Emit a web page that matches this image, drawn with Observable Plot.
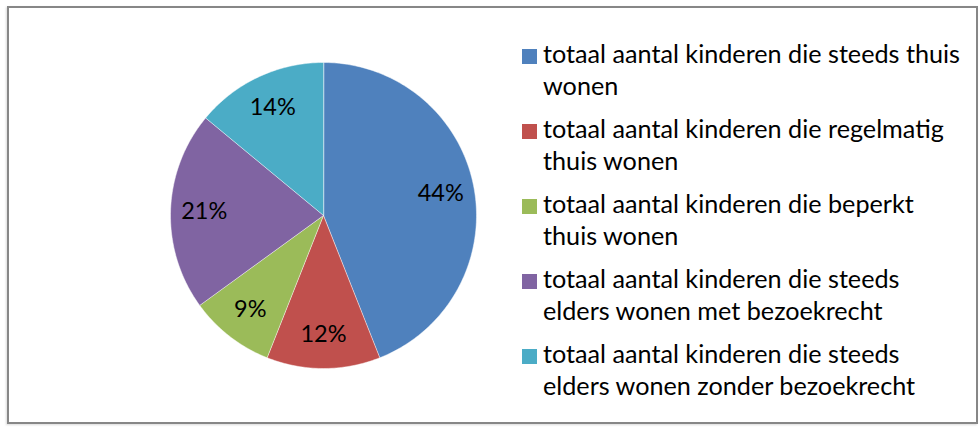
<!DOCTYPE html>
<html>
<head>
<meta charset="utf-8">
<script src="https://cdn.jsdelivr.net/npm/d3@7"></script>
<script src="https://cdn.jsdelivr.net/npm/@observablehq/plot@0.6"></script>
<style>
  html, body { margin: 0; padding: 0; background: #fff; }
  #chart { position: relative; width: 979px; height: 427px; overflow: hidden; font-family: Lato, "Open Sans", sans-serif; color: #000; }
  #frame { position: absolute; left: 7px; top: 6px; width: 971px; height: 418px; box-sizing: border-box; border: 2px solid #878787; box-shadow: -1px 1px 2px rgba(0,0,0,0.15); }
  #pie { position: absolute; left: 0; top: 0; }
  #legend { position: absolute; left: 522px; top: 37px; }
  .entry { position: relative; padding-left: 21px; margin-bottom: 11px; }
  .swatch { position: absolute; left: 0; top: 12px; width: 15px; height: 15px; }
  .line { font-size: 25.2px; line-height: 32px; white-space: nowrap; }
</style>
</head>
<body>
<div id="chart">
  <div id="frame"></div>
  <div id="pie"></div>
  <div id="legend"></div>
</div>
<script>
// Data
const categories = [
  "totaal aantal kinderen die steeds thuis wonen",
  "totaal aantal kinderen die regelmatig thuis wonen",
  "totaal aantal kinderen die beperkt thuis wonen",
  "totaal aantal kinderen die steeds elders wonen met bezoekrecht",
  "totaal aantal kinderen die steeds elders wonen zonder bezoekrecht"
];
const legendLines = [
  ["totaal aantal kinderen die steeds thuis", "wonen"],
  ["totaal aantal kinderen die regelmatig", "thuis wonen"],
  ["totaal aantal kinderen die beperkt", "thuis wonen"],
  ["totaal aantal kinderen die steeds", "elders wonen met bezoekrecht"],
  ["totaal aantal kinderen die steeds", "elders wonen zonder bezoekrecht"]
];
const values = [44, 12, 9, 21, 14];
const colors = ["#4F81BD", "#C0504D", "#9BBB59", "#8064A2", "#4BACC6"];

// Build slice polygons (angles clockwise from 12 o'clock)
const total = d3.sum(values);
const pts = [];
const labels = [];
let acc = 0;
values.forEach((v, i) => {
  const a0 = acc / total * 2 * Math.PI;
  const a1 = (acc + v) / total * 2 * Math.PI;
  acc += v;
  pts.push({cat: categories[i], x: 0, y: 0});
  const n = Math.max(2, Math.ceil((a1 - a0) / (Math.PI / 180)));
  for (let k = 0; k <= n; k++) {
    const a = a0 + (a1 - a0) * k / n;
    pts.push({cat: categories[i], x: Math.sin(a), y: Math.cos(a)});
  }
  const am = (a0 + a1) / 2;
  const r = 0.78;
  labels.push({cat: categories[i], x: r * Math.sin(am), y: r * Math.cos(am), text: Math.round(v / total * 100) + "%"});
});

const plot = Plot.plot({
  width: 979,
  height: 427,
  marginLeft: 170,
  marginRight: 503,
  marginTop: 62,
  marginBottom: 59,
  x: {domain: [-1, 1], axis: null},
  y: {domain: [-1, 1], axis: null},
  color: {domain: categories, range: colors},
  style: {background: "transparent", fontFamily: "Lato, 'Open Sans', sans-serif"},
  marks: [
    Plot.line(pts, {x: "x", y: "y", z: "cat", fill: "cat", stroke: "#ffffff", strokeWidth: 0.6, strokeOpacity: 0.8, curve: "linear-closed"}),
    Plot.text(labels, {x: "x", y: "y", text: "text", fill: "#000", fontSize: 23.5})
  ]
});
document.getElementById("pie").appendChild(plot);

// Legend
const legend = d3.select("#legend");
categories.forEach((c, i) => {
  const e = legend.append("div").attr("class", "entry");
  e.append("div").attr("class", "swatch").style("background", colors[i]);
  legendLines[i].forEach(t => e.append("div").attr("class", "line").text(t));
});
</script>
</body>
</html>
